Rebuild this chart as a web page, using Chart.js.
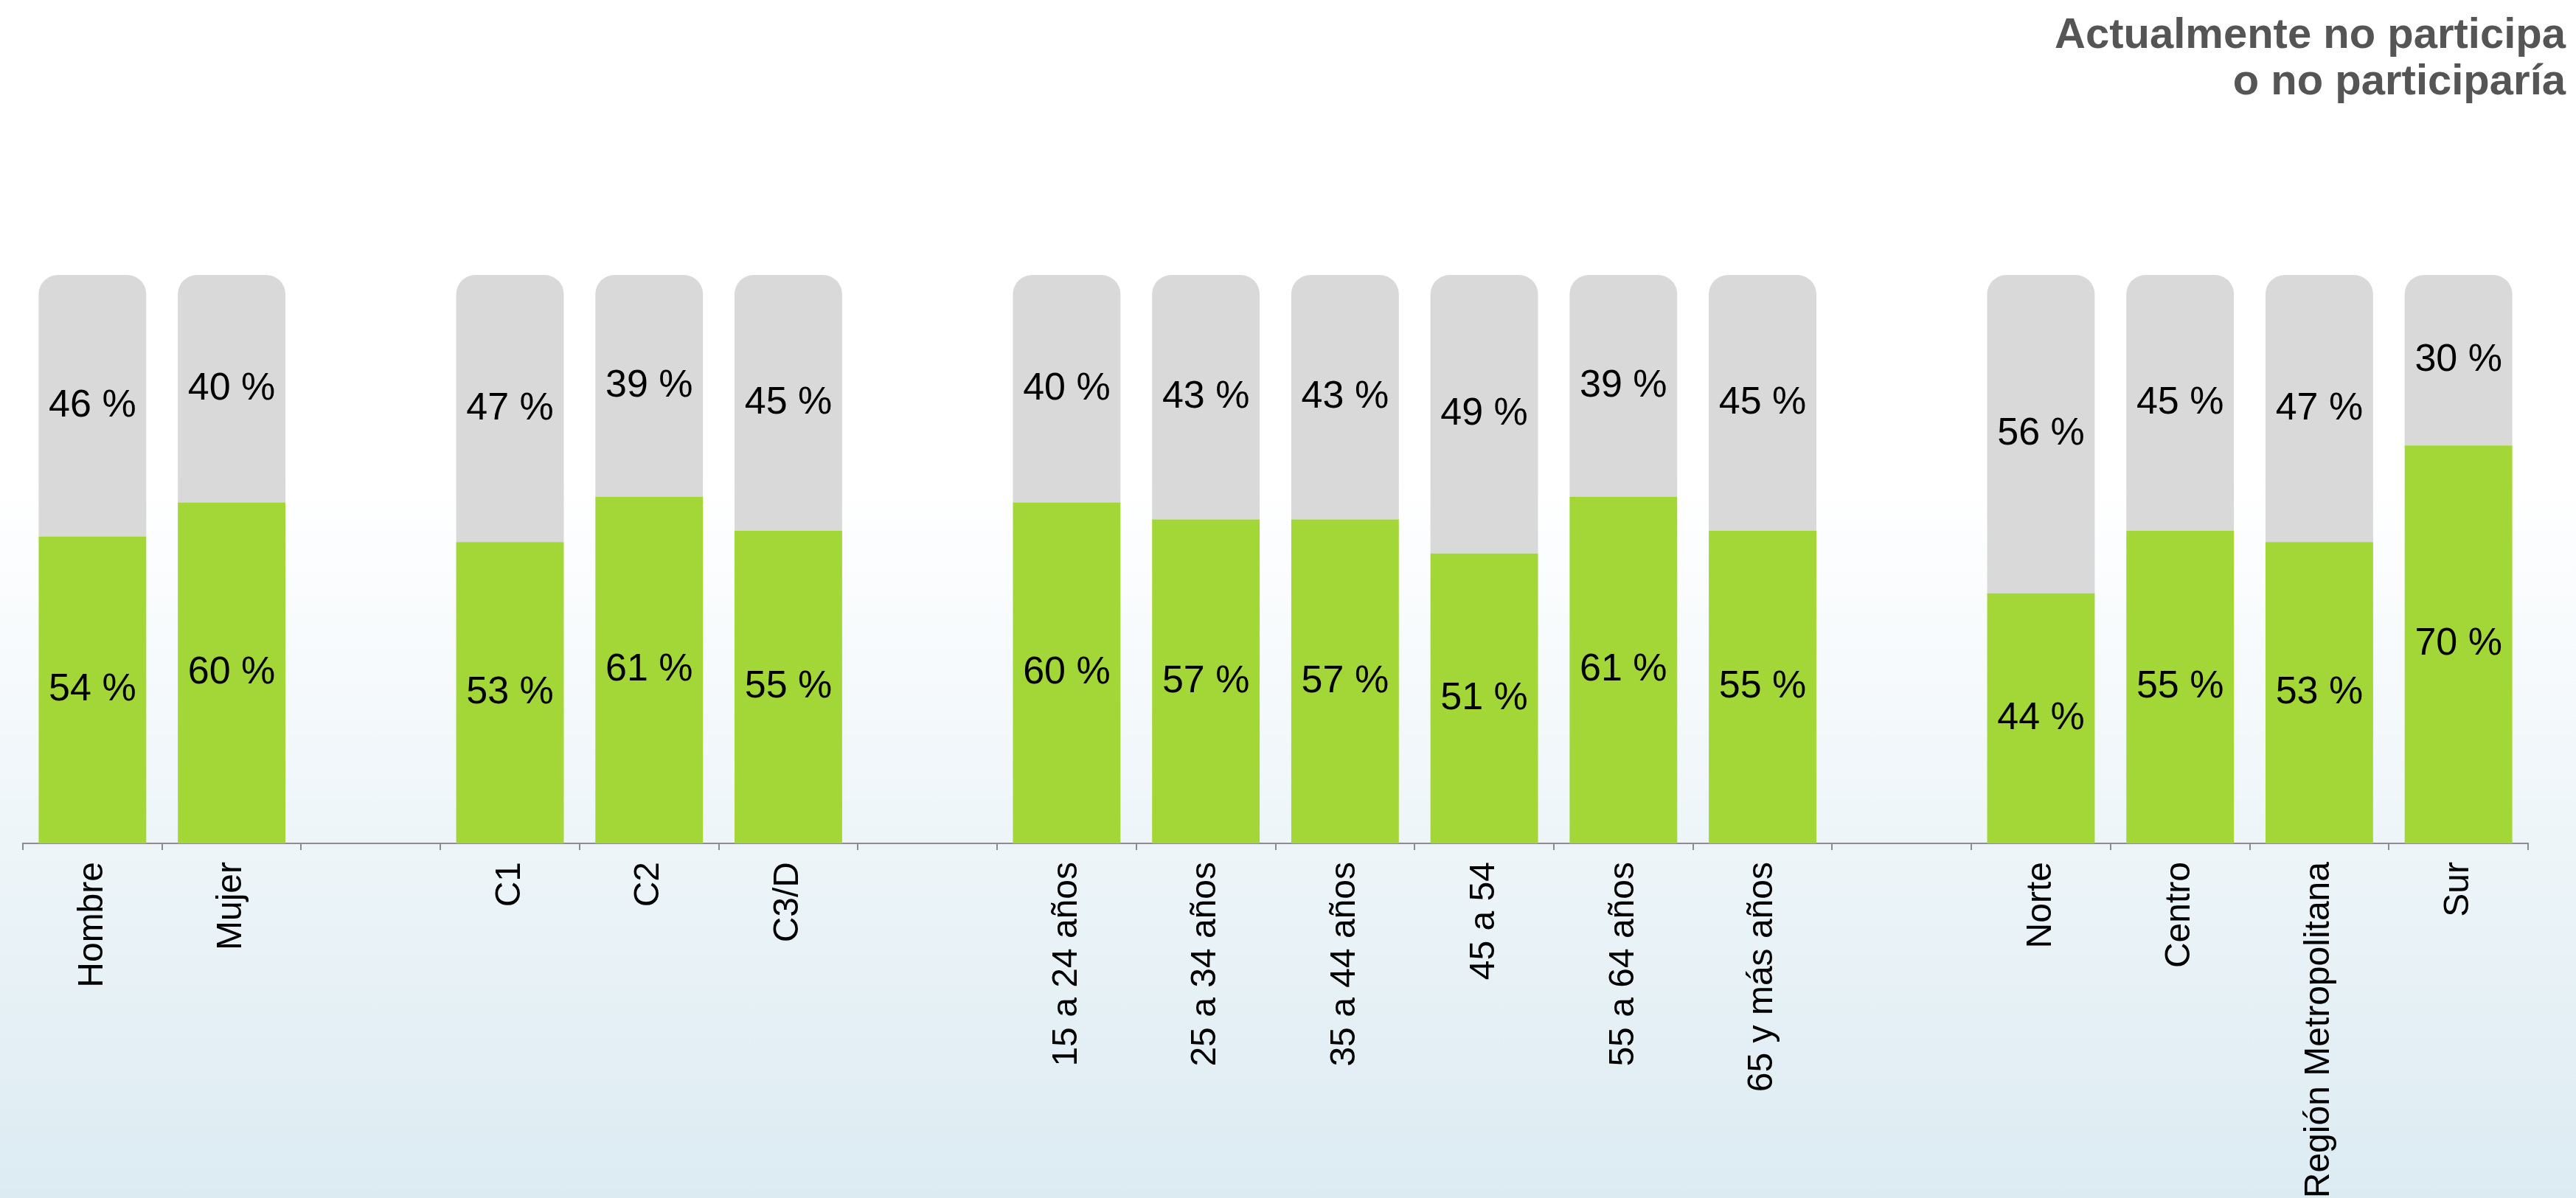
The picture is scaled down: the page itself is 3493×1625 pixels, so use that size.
<!DOCTYPE html>
<html>
<head>
<meta charset="utf-8">
<script src="https://cdn.jsdelivr.net/npm/chart.js@4.4.1/dist/chart.umd.min.js"></script>
<style>
  html, body { margin: 0; padding: 0; overflow: hidden; }
  body {
    width: 3493px; height: 1625px; position: relative;
    background: linear-gradient(to bottom, #ffffff 0%, #ffffff 40%, #dcebf2 100%);
    font-family: 'Liberation Sans', Arial, Helvetica, sans-serif;
  }
  #title {
    position: absolute; right: 14px; top: 13px;
    font-weight: bold; font-size: 58px; line-height: 63px;
    color: #555555; text-align: right;
  }
  #myChart { position: absolute; left: 0; top: 0; }
</style>
</head>
<body>
<div id="title">Actualmente no participa<br>o no participaría</div>
<canvas id="myChart" width="3493" height="1625"></canvas>
<script>
// categories, with empty slots that separate the groups
const categories = ['Hombre', 'Mujer', '', 'C1', 'C2', 'C3/D', '',
  '15 a 24 años', '25 a 34 años', '35 a 44 años', '45 a 54', '55 a 64 años', '65 y más años', '',
  'Norte', 'Centro', 'Región Metropolitana', 'Sur'];

// green part
const participa = [54, 60, null, 53, 61, 55, null, 60, 57, 57, 51, 61, 55, null, 44, 55, 53, 70];
// grey part: "Actualmente no participa o no participaría"
const noParticipa = [46, 40, null, 47, 39, 45, null, 40, 43, 43, 49, 39, 45, null, 56, 45, 47, 30];

const fontFamily = "'Liberation Sans', Arial, Helvetica, sans-serif";

// writes "NN %" in the middle of every bar segment
const barLabels = {
  id: 'barLabels',
  afterDatasetsDraw(chart) {
    const ctx = chart.ctx;
    ctx.save();
    ctx.font = '52px ' + fontFamily;
    ctx.fillStyle = '#000000';
    ctx.textAlign = 'center';
    ctx.textBaseline = 'middle';
    chart.data.datasets.forEach((ds, i) => {
      chart.getDatasetMeta(i).data.forEach((bar, j) => {
        const v = ds.data[j];
        if (v === null || v === undefined) return;
        ctx.fillText(v + ' %', bar.x, (bar.y + bar.base) / 2);
      });
    });
    ctx.restore();
  }
};

const ctx = document.getElementById('myChart').getContext('2d');
const chart = new Chart(ctx, {
  type: 'bar',
  data: {
    labels: categories,
    datasets: [
      {
        label: 'Participa',
        data: participa,
        backgroundColor: '#a3d737',
        borderWidth: 0,
        barPercentage: 0.773,
        categoryPercentage: 1
      },
      {
        label: 'Actualmente no participa o no participaría',
        data: noParticipa,
        backgroundColor: '#d9d9d9',
        borderWidth: 0,
        borderRadius: { topLeft: 26, topRight: 26, bottomLeft: 0, bottomRight: 0 },
        borderSkipped: false,
        barPercentage: 0.773,
        categoryPercentage: 1
      }
    ]
  },
  options: {
    responsive: false,
    animation: false,
    layout: { padding: { left: 31, right: 65, top: 373, bottom: 0 } },
    plugins: {
      legend: { display: false },
      tooltip: { enabled: false }
    },
    scales: {
      x: {
        stacked: true,
        offset: true,
        afterFit: (scale) => { scale.height = 481; },
        border: { display: true, color: '#8c8c8c', width: 2 },
        grid: {
          display: true,
          offset: true,
          drawOnChartArea: false,
          drawTicks: true,
          tickLength: 9,
          color: '#8c8c8c',
          lineWidth: 2
        },
        ticks: {
          autoSkip: false,
          maxRotation: 90,
          minRotation: 90,
          padding: 16,
          color: '#000000',
          font: { family: fontFamily, size: 48 }
        }
      },
      y: {
        stacked: true,
        display: false,
        min: 0,
        max: 100
      }
    }
  },
  plugins: [barLabels]
});
</script>
</body>
</html>
